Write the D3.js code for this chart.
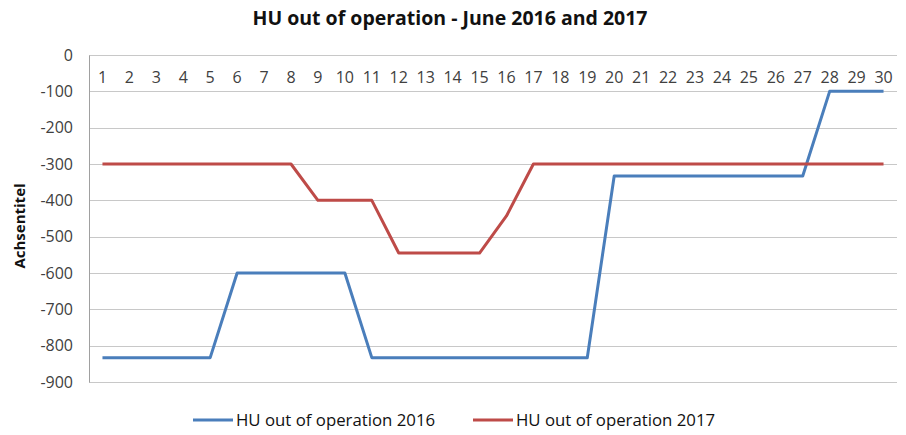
<!DOCTYPE html>
<html>
<head>
<meta charset="utf-8">
<script src="https://cdn.jsdelivr.net/npm/d3@7"></script>
<style>
  body { margin: 0; background: #fff; }
  text { font-family: "Open Sans", "Noto Sans", sans-serif; fill: #404040; }
</style>
</head>
<body>
<div id="chart"></div>
<script>
// data
const days = d3.range(1, 31);
const hu2016 = [-833, -833, -833, -833, -833, -600, -600, -600, -600, -600,
  -833, -833, -833, -833, -833, -833, -833, -833, -833, -333,
  -333, -333, -333, -333, -333, -333, -333, -100, -100, -100];
const hu2017 = [-300, -300, -300, -300, -300, -300, -300, -300, -400, -400,
  -400, -545, -545, -545, -545, -443, -300, -300, -300, -300,
  -300, -300, -300, -300, -300, -300, -300, -300, -300, -300];
const yTicks = [0, -100, -200, -300, -400, -500, -600, -700, -800, -900];
const seriesNames = ["HU out of operation 2016", "HU out of operation 2017"];
const seriesColors = ["#4a7ebb", "#be4b48"];

const width = 906, height = 435;
const margin = { top: 55, right: 9, bottom: 53, left: 89 };

const svg = d3.select("#chart").append("svg")
  .attr("width", width)
  .attr("height", height);

const x = d3.scaleBand()
  .domain(days)
  .range([margin.left, width - margin.right]);

const y = d3.scaleLinear()
  .domain([-900, 0])
  .range([height - margin.bottom, margin.top]);

// gridlines
svg.append("g")
  .selectAll("line")
  .data(yTicks)
  .enter()
  .append("line")
  .attr("x1", margin.left)
  .attr("x2", width - margin.right)
  .attr("y1", (d) => Math.round(y(d)) + 0.5)
  .attr("y2", (d) => Math.round(y(d)) + 0.5)
  .attr("stroke", "#c8c8c8")
  .attr("stroke-width", 1);

// value axis (plain hyphen like Excel)
const yAxis = svg.append("g")
  .attr("transform", `translate(${margin.left},0)`)
  .call(d3.axisLeft(y).tickValues(yTicks).tickSize(0).tickPadding(16)
    .tickFormat((d) => String(d)));
yAxis.select(".domain").attr("stroke", "#a0a0a0");
yAxis.selectAll("text")
  .style("font-size", "16px")
  .attr("fill", "#404040");

// category axis sits on the zero line, labels below it
const xAxis = svg.append("g")
  .attr("transform", `translate(0,${y(0)})`)
  .call(d3.axisBottom(x).tickSize(0).tickPadding(17));
xAxis.select(".domain").remove();
xAxis.selectAll("text")
  .style("font-size", "16px")
  .attr("fill", "#404040");

// lines
const line = d3.line()
  .x((d, i) => x(days[i]) + x.bandwidth() / 2)
  .y((d) => y(d));

[hu2016, hu2017].forEach((s, i) => {
  svg.append("path")
    .datum(s)
    .attr("fill", "none")
    .attr("stroke", seriesColors[i])
    .attr("stroke-width", 3)
    .attr("stroke-linejoin", "round")
    .attr("d", line);
});

// title
svg.append("text")
  .attr("x", 450)
  .attr("y", 25)
  .attr("text-anchor", "middle")
  .style("font-size", "19.5px")
  .style("font-weight", "bold")
  .style("fill", "#111")
  .text("HU out of operation - June 2016 and 2017");

// axis title
svg.append("text")
  .attr("transform", `translate(25,226) rotate(-90)`)
  .attr("text-anchor", "middle")
  .style("font-size", "15px")
  .style("font-weight", "bold")
  .style("fill", "#111")
  .text("Achsentitel");

// legend
const legendX = [193, 473];
const legend = svg.append("g")
  .selectAll("g")
  .data(seriesNames)
  .enter()
  .append("g")
  .attr("transform", (d, i) => `translate(${legendX[i]},420)`);
legend.append("line")
  .attr("x1", 0)
  .attr("x2", 40)
  .attr("stroke", (d, i) => seriesColors[i])
  .attr("stroke-width", 3);
legend.append("text")
  .attr("x", 43)
  .attr("dy", "0.35em")
  .style("font-size", "16.8px")
  .style("fill", "#111")
  .text((d) => d);
</script>
</body>
</html>
